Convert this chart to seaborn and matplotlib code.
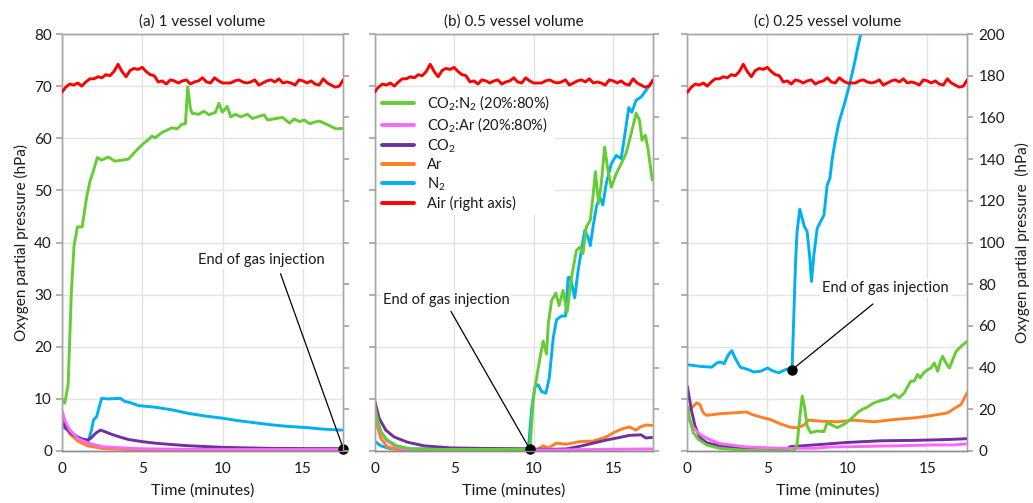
import matplotlib
matplotlib.use('Agg')
import matplotlib.pyplot as plt
import seaborn as sns
import pandas as pd
from matplotlib.lines import Line2D

# ---------------- data ----------------
TITLES = ["(a) 1 vessel volume", "(b) 0.5 vessel volume", "(c) 0.25 vessel volume"]
X_TICKS = [0, 5, 10, 15]
LEFT_TICKS = [0, 10, 20, 30, 40, 50, 60, 70, 80]
RIGHT_TICKS = [0, 20, 40, 60, 80, 100, 120, 140, 160, 180, 200]
LABELS = [r"CO$_2$:N$_2$ (20%:80%)", r"CO$_2$:Ar (20%:80%)", r"CO$_2$", "Ar", r"N$_2$", "Air (right axis)"]

# Air reference (right axis, hPa) - same in every panel
AIR_T = [0, 0.25, 0.5, 0.75, 1.0, 1.25, 1.5, 1.75, 2.0, 2.25, 2.5, 2.75, 3.0, 3.25, 3.5, 3.75, 4.0,
         4.25, 4.5, 4.75, 5.0, 5.25, 5.5, 5.75, 6.0, 6.25, 6.5, 6.75, 7.0, 7.25, 7.5, 7.75, 8.0, 8.25,
         8.5, 8.75, 9.0, 9.25, 9.5, 9.75, 10.0, 10.5, 10.75, 11.0, 11.25, 11.5, 11.75, 12.0, 12.25,
         12.5, 12.75, 13.0, 13.25, 13.5, 13.75, 14.0, 14.25, 14.5, 14.75, 15.0, 15.25, 15.5, 15.75,
         16.0, 16.25, 16.5, 16.75, 17.0, 17.25, 17.5]
AIR_V = [172, 174.5, 176, 175.5, 176.5, 175, 177, 178.5, 178.5, 179.5, 179, 180.5, 180, 182, 185.5,
         182, 179.5, 182.5, 183.5, 183, 184, 182, 180.5, 180, 177, 177.5, 176, 178, 177.5, 176.5,
         177.5, 178, 176, 177, 177.5, 179, 177, 176.5, 179, 177.5, 176.5, 176.5, 177.5, 178, 177,
         176.5, 177, 178, 175.5, 176.5, 177.5, 178, 177, 178.5, 176.5, 177, 176.5, 175.5, 178, 177.5,
         176.5, 177.5, 176, 175.5, 178.5, 176.5, 175.5, 174.5, 175, 178]

# Panel (a) 1 vessel volume (left axis, hPa)
A_CO2N2_T = [0, 0.19, 0.4, 0.6, 0.77, 0.98, 1.27, 1.54, 1.75, 1.96, 2.21, 2.48, 2.9, 3.31, 4.15, 4.56,
             4.98, 5.4, 5.6, 5.81, 6.23, 6.85, 7.17, 7.48, 7.69, 7.83, 8.0, 8.1, 8.52, 8.83, 9.15, 9.56,
             9.77, 9.98, 10.29, 10.5, 10.81, 11.13, 11.54, 11.85, 12.58, 12.79, 13.73, 14.15, 14.46,
             14.77, 15.08, 15.4, 15.71, 16.02, 16.44, 17.06, 17.5]
A_CO2N2_V = [10.2, 9.2, 12.7, 30.5, 39.5, 43.0, 43.0, 48.5, 51.7, 53.6, 56.3, 55.8, 56.4, 55.6, 56.0,
             57.4, 58.7, 59.8, 60.4, 60.1, 61.1, 62.0, 61.8, 62.7, 62.8, 69.9, 65.7, 64.8, 64.6, 65.2,
             64.5, 65.0, 66.7, 65.0, 66.1, 64.1, 64.6, 64.1, 64.6, 63.8, 64.5, 63.5, 64.0, 62.9, 63.7,
             63.2, 63.5, 62.8, 63.1, 63.3, 62.7, 61.8, 61.9]
A_CO2AR_T = [0, 0.19, 0.5, 1.0, 1.65, 2.6, 4.8, 7.9, 12.0, 17.5]
A_CO2AR_V = [8.0, 5.9, 4.0, 2.4, 1.5, 0.8, 0.45, 0.3, 0.3, 0.3]
A_CO2_T = [0, 0.2, 0.4, 0.7, 1.0, 1.3, 1.55, 1.75, 1.95, 2.15, 2.4, 2.7, 3.1, 3.6, 4.15, 5.0, 5.8,
           7.0, 7.9, 9.0, 10.0, 11.5, 13.1, 15.0, 17.5]
A_CO2_V = [6.5, 4.8, 3.9, 3.1, 2.6, 2.3, 2.1, 2.3, 2.9, 3.5, 4.0, 3.7, 3.2, 2.7, 2.2, 1.8, 1.5, 1.2,
           1.0, 0.85, 0.7, 0.6, 0.5, 0.47, 0.45]
A_AR_T = [0, 0.2, 0.5, 1.0, 1.6, 2.5, 4.0, 7.0, 12.0, 17.5]
A_AR_V = [7.5, 5.2, 3.3, 1.9, 1.0, 0.5, 0.3, 0.2, 0.2, 0.2]
A_N2_T = [0, 0.19, 0.5, 0.81, 1.23, 1.65, 1.85, 1.97, 2.17, 2.48, 2.9, 3.63, 3.94, 4.25, 4.77, 5.81,
          6.85, 7.9, 8.94, 9.98, 11.02, 12.06, 13.1, 14.15, 15.19, 16.23, 17.5]
A_N2_V = [5.6, 4.3, 4.0, 3.1, 2.2, 1.9, 4.0, 5.9, 6.6, 10.1, 10.0, 10.1, 9.5, 9.3, 8.7, 8.4, 7.9, 7.2,
          6.7, 6.3, 5.8, 5.4, 5.0, 4.7, 4.5, 4.2, 4.0]

# Panel (b) 0.5 vessel volume (left axis, hPa)
B_CO2N2_T = [0, 0.4, 0.8, 1.4, 2.3, 4.0, 6.0, 8.0, 9.77, 9.98, 10.19, 10.4, 10.6, 10.81, 10.92, 11.13,
             11.4, 11.6, 11.85, 12.1, 12.38, 12.69, 12.9, 13.1, 13.31, 13.56, 13.73, 13.88, 14.08,
             14.25, 14.46, 14.67, 14.88, 15.19, 15.5, 15.81, 16.13, 16.44, 16.65, 16.81, 17.02,
             17.2, 17.45]
B_CO2N2_V = [8.2, 3.7, 2.1, 1.0, 0.4, 0.3, 0.3, 0.3, 0.3, 10.2, 14.1, 17.9, 21.1, 18.6, 24.4, 28.9,
             30.3, 27.9, 30.8, 26.6, 33.3, 38.5, 39.1, 37.9, 43.0, 44.3, 48.8, 53.6, 47.5, 51.3, 58.3,
             53.8, 50.6, 53.2, 55.1, 57.1, 60.9, 64.8, 63.5, 59.6, 60.6, 57.7, 52.0]
B_CO2AR_T = [0, 0.29, 0.71, 1.33, 2.27, 4.0, 9.8, 11.23, 14.0, 17.45]
B_CO2AR_V = [8.8, 4.3, 2.1, 0.8, 0.2, 0.2, 0.2, 0.2, 0.3, 0.4]
B_CO2_T = [0, 0.29, 0.71, 1.23, 2.06, 3.1, 4.77, 6.85, 9.56, 11.0, 12.06, 12.9, 13.73, 14.56, 15.4,
           16.02, 16.75, 17.05, 17.45]
B_CO2_V = [9.8, 6.3, 4.0, 2.7, 1.7, 1.0, 0.6, 0.5, 0.4, 0.3, 0.4, 0.9, 1.5, 2.1, 2.6, 3.0, 3.1, 2.5, 2.6]
B_AR_T = [0, 0.4, 0.81, 1.65, 3.0, 6.0, 9.77, 10.19, 10.6, 10.92, 11.44, 12.06, 12.9, 13.73, 14.56,
          15.08, 15.6, 16.02, 16.44, 16.69, 17.06, 17.45]
B_AR_V = [6.6, 2.4, 0.8, 0.05, 0.05, 0.05, 0.05, 0.2, 1.0, 0.6, 1.5, 1.3, 1.8, 1.9, 2.7, 3.6, 4.3, 4.6,
          4.0, 4.6, 5.0, 4.9]
B_N2_T = [0, 0.4, 1.02, 3.7, 9.67, 9.88, 10.08, 10.29, 10.5, 10.77, 10.98, 11.23, 11.44, 11.75, 12.0,
          12.17, 12.31, 12.58, 12.79, 13.0, 13.21, 13.42, 13.56, 13.73, 13.94, 14.15, 14.35, 14.56,
          14.88, 15.19, 15.5, 15.71, 15.98, 16.17, 16.44, 16.75, 17.06, 17.45]
B_N2_V = [1.9, 1.0, 0.4, 0.4, 0.4, 8.2, 12.3, 12.7, 11.4, 11.1, 14.0, 21.7, 25.2, 25.9, 25.9, 33.3,
          33.3, 29.4, 34.5, 38.5, 42.3, 41.0, 39.4, 43.0, 46.8, 48.8, 47.2, 51.3, 55.1, 56.7, 56.1,
          60.3, 65.9, 65.0, 67.3, 67.9, 69.2, 70.8]

# Panel (c) 0.25 vessel volume (right axis, hPa)
C_CO2N2_T = [0, 0.17, 0.38, 0.69, 1.21, 2.05, 3.72, 6.65, 6.86, 7.03, 7.18, 7.32, 7.49, 7.7, 8.12,
             8.54, 8.74, 8.95, 9.37, 9.79, 10.21, 10.63, 10.94, 11.26, 11.67, 12.09, 12.51, 12.93,
             13.24, 13.56, 13.97, 14.18, 14.39, 14.56, 14.77, 15.02, 15.23, 15.44, 15.65, 15.82,
             15.96, 16.17, 16.38, 16.59, 16.8, 17.11, 17.49]
C_CO2N2_V = [21.5, 14.3, 8.8, 5.6, 2.9, 1.2, 0.3, 0.0, 3.2, 16.0, 26.3, 21.5, 12.0, 8.8, 9.6, 9.3,
             13.5, 12.8, 11.2, 12.8, 15.2, 18.4, 20.0, 21.1, 23.1, 24.2, 25.0, 27.1, 25.5, 27.9, 33.5,
             33.5, 36.7, 35.1, 37.5, 39.0, 39.8, 42.2, 38.2, 43.0, 45.4, 42.2, 39.8, 43.8, 47.8, 50.2,
             52.6]
C_CO2AR_T = [0, 0.38, 0.79, 1.21, 2.05, 3.72, 5.82, 7.91, 8.95, 11.05, 13.14, 15.23, 16.69, 17.49]
C_CO2AR_V = [17.0, 11.2, 8.0, 6.1, 3.5, 1.9, 1.3, 1.3, 1.9, 2.2, 2.5, 2.9, 2.9, 3.5]
C_CO2_T = [0, 0.27, 0.48, 0.79, 1.21, 2.05, 3.72, 6.23, 6.44, 7.91, 8.95, 10.0, 11.05, 12.09, 14.18,
           16.28, 17.49]
C_CO2_V = [31.1, 19.1, 12.0, 6.4, 4.0, 2.4, 1.3, 1.1, 2.1, 2.9, 3.5, 4.1, 4.5, 4.9, 5.1, 5.5, 5.9]
C_AR_T = [0, 0.27, 0.59, 0.79, 1.0, 1.21, 2.05, 3.72, 4.04, 4.77, 5.19, 5.82, 6.44, 6.86, 7.28, 7.59,
          8.33, 9.37, 10.42, 11.67, 12.93, 14.18, 15.02, 15.65, 16.28, 16.69, 17.11, 17.49]
C_AR_V = [19.1, 20.7, 23.1, 22.3, 18.3, 17.1, 17.9, 18.7, 17.5, 15.9, 15.1, 13.0, 11.4, 11.1, 12.4,
          14.8, 14.3, 14.0, 14.8, 14.0, 15.1, 15.9, 16.7, 17.5, 18.3, 20.4, 22.3, 28.0]
C_N2_T = [0, 0.79, 1.53, 1.84, 2.05, 2.3, 2.57, 2.78, 2.99, 3.31, 3.83, 4.14, 4.56, 5.02, 5.29, 5.71,
          6.12, 6.55, 6.76, 6.86, 7.03, 7.18, 7.32, 7.49, 7.66, 7.76, 7.91, 8.12, 8.33, 8.54, 8.74,
          8.91, 9.06, 9.23, 9.48, 9.79, 10.1, 10.42, 10.63, 10.84, 10.94]
C_N2_V = [41.4, 40.6, 40.2, 42.2, 42.7, 41.9, 46.2, 48.1, 44.6, 40.2, 39.0, 37.9, 38.2, 39.8, 38.6,
          37.5, 39.0, 39.8, 89.2, 105.2, 116.0, 111.6, 107.6, 105.2, 92.4, 81.3, 94.0, 106.8, 110.0,
          113.1, 127.5, 130.7, 140.2, 148.2, 157.8, 165.7, 174.5, 184.9, 192.8, 200.0, 204.0]

# "End of gas injection" annotations: marker point, text position, line start
INJ_POINT = [(17.5, 0.45), (9.75, 0.4), (6.55, 39.0)]
INJ_TEXT = [(12.4, 36.6), (4.5, 29.0), (12.4, 78.0)]
INJ_LINE_START = [(13.6, 34.0), (4.8, 26.8), (11.6, 70.5)]

COLORS = ["#66CC33", "#FF66FF", "#7030A0", "#FF7F27", "#00B0F0", "#FF0000"]

# ---------------- style ----------------
sns.set_theme(style="white")
plt.rcParams['font.family'] = ['Lato', 'DejaVu Sans']
plt.rcParams['mathtext.fontset'] = 'custom'
plt.rcParams['mathtext.rm'] = 'Lato'
plt.rcParams['mathtext.it'] = 'Lato:italic'
plt.rcParams['mathtext.bf'] = 'Lato:bold'

LW = 2.1
TICK_FS = 11
LABEL_FS = 11.5
TITLE_FS = 11
ANN_FS = 10.5
LEG_FS = 10.5
TXT = "#1a1a1a"
SPINE = "#A6A6A6"
GRID = "#E3E3E3"

fig = plt.figure(figsize=(10.33, 5.03), dpi=100)
W, H = 1033, 503
bottom_px, top_px = 451, 34
rects = [(61.7, 281.6), (374.5, 278.5), (687.3, 280.0)]


def draw(ax, t, v, color, z=2):
    df = pd.DataFrame({"t": t, "v": v})
    sns.lineplot(data=df, x="t", y="v", ax=ax, color=color, lw=LW, legend=False,
                 sort=False, estimator=None, zorder=z)


panels = [
    [(A_CO2N2_T, A_CO2N2_V), (A_CO2AR_T, A_CO2AR_V), (A_CO2_T, A_CO2_V), (A_AR_T, A_AR_V), (A_N2_T, A_N2_V)],
    [(B_CO2N2_T, B_CO2N2_V), (B_CO2AR_T, B_CO2AR_V), (B_CO2_T, B_CO2_V), (B_AR_T, B_AR_V), (B_N2_T, B_N2_V)],
    [(C_CO2N2_T, C_CO2N2_V), (C_CO2AR_T, C_CO2AR_V), (C_CO2_T, C_CO2_V), (C_AR_T, C_AR_V), (C_N2_T, C_N2_V)],
]
draw_order = [4, 3, 2, 1, 0]  # N2, Ar, CO2, CO2:Ar, CO2:N2

for i in range(3):
    x0, w = rects[i]
    ax = fig.add_axes([x0 / W, (H - bottom_px) / H, w / W, (bottom_px - top_px) / H])
    tw = ax.twinx()
    ax.set_xlim(0, 17.5)
    ax.set_ylim(0, 80)
    tw.set_ylim(0, 200)
    ax.set_xticks(X_TICKS)
    ax.set_yticks(LEFT_TICKS)
    tw.set_yticks(RIGHT_TICKS)
    ax.grid(True, color=GRID, lw=1.0)
    ax.set_axisbelow(True)

    target = ax if i < 2 else tw
    for k in draw_order:
        t, v = panels[i][k]
        draw(target, t, v, COLORS[k])
    draw(tw, AIR_T, AIR_V, COLORS[5], z=3)

    # annotation
    px, py = INJ_POINT[i]
    tx, ty = INJ_TEXT[i]
    lx, ly = INJ_LINE_START[i]
    target.plot([lx, px], [ly, py], color="black", lw=0.9, zorder=4)
    target.plot([px], [py], marker="o", ms=6.5, color="black", zorder=5, clip_on=False)
    target.text(tx, ty, "End of gas injection", ha="center", va="center", fontsize=ANN_FS,
                color=TXT, zorder=6,
                bbox=dict(facecolor="white", edgecolor="none", pad=1.5))

    ax.set_title(TITLES[i], fontsize=TITLE_FS, pad=6, color=TXT)
    ax.set_xlabel("Time (minutes)", fontsize=LABEL_FS, color=TXT, labelpad=5)
    ax.set_ylabel("")
    tw.set_ylabel("")

    for a in (ax, tw):
        for s in a.spines.values():
            s.set_color(SPINE)
            s.set_linewidth(1.0)
        a.spines["bottom"].set_color("#8C8C8C")
    ax.tick_params(axis="x", length=0, labelsize=TICK_FS, colors=TXT, pad=8)
    ax.tick_params(axis="y", length=4, color=SPINE, labelsize=TICK_FS, labelcolor=TXT, pad=3)
    tw.tick_params(axis="y", length=4, color=SPINE, labelsize=TICK_FS, labelcolor=TXT, pad=4)

    if i == 0:
        ax.set_ylabel("Oxygen partial pressure (hPa)", fontsize=LABEL_FS - 0.5, color=TXT, labelpad=4)
    else:
        ax.tick_params(axis="y", labelleft=False)
    if i < 2:
        tw.tick_params(axis="y", labelright=False)
    else:
        tw.set_ylabel("Oxygen partial pressure  (hPa)", fontsize=LABEL_FS - 0.5, color=TXT, labelpad=7)

    if i == 1:
        handles = [Line2D([0], [0], color=c, lw=2.8) for c in COLORS]
        leg = tw.legend(handles, LABELS, loc="upper left", bbox_to_anchor=(0.0, 0.875),
                        frameon=True, fontsize=LEG_FS, handlelength=2.2, handletextpad=0.9,
                        labelspacing=0.22, borderpad=0.3, borderaxespad=0.2)
        leg.get_frame().set_facecolor("white")
        leg.get_frame().set_edgecolor("none")
        leg.get_frame().set_alpha(1.0)
        for txt in leg.get_texts():
            txt.set_color(TXT)

fig.savefig("out.png", dpi=100)
